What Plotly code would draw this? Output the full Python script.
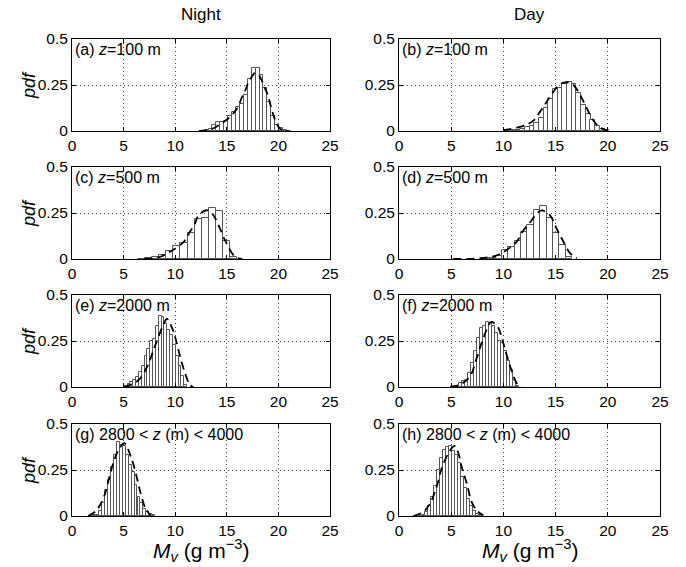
import plotly.graph_objects as go

# ---------------- data ----------------
panel_labels = ["(a) <i>z</i>=100 m", "(b) <i>z</i>=100 m",
                "(c) <i>z</i>=500 m", "(d) <i>z</i>=500 m",
                "(e) <i>z</i>=2000 m", "(f) <i>z</i>=2000 m",
                "(g) 2800 &lt; <i>z</i> (m) &lt; 4000", "(h) 2800 &lt; <i>z</i> (m) &lt; 4000"]

# histogram bin centres, widths and pdf heights
a_x = [12.66, 13.04, 13.42, 13.80, 14.18, 14.56, 14.94, 15.32, 15.70, 16.08, 16.46, 16.84,
       17.22, 17.60, 17.98, 18.36, 18.74, 19.12, 19.50, 19.88, 20.26, 20.64, 21.02]
a_y = [0.002, 0.005, 0.012, 0.03, 0.05, 0.05, 0.055, 0.08, 0.105, 0.13, 0.145, 0.195,
       0.28, 0.345, 0.34, 0.305, 0.235, 0.16, 0.08, 0.035, 0.015, 0.004, 0.002]
a_w = 0.38

b_x = [10.48, 10.93, 11.38, 11.83, 12.28, 12.73, 13.17, 13.62, 14.07, 14.52, 14.97,
       15.42, 15.87, 16.32, 16.77, 17.22, 17.67, 18.12, 18.56, 19.01, 19.46, 19.91]
b_y = [0.002, 0.003, 0.004, 0.01, 0.024, 0.027, 0.042, 0.072, 0.127, 0.172, 0.226,
       0.235, 0.253, 0.268, 0.253, 0.205, 0.141, 0.09, 0.06, 0.029, 0.011, 0.004]
b_w = 0.449

c_x = [6.71, 7.40, 8.09, 8.78, 9.47, 10.16, 10.85, 11.54, 12.23, 12.92, 13.61, 14.30, 14.99, 15.68]
c_y = [0.002, 0.005, 0.01, 0.02, 0.045, 0.07, 0.085, 0.14, 0.215, 0.225, 0.275, 0.26, 0.1, 0.01]
c_w = 0.69

d_x = [8.34, 8.95, 9.56, 10.17, 10.78, 11.39, 12.00, 12.61, 13.22, 13.83, 14.44, 15.05, 15.66, 16.27]
d_y = [0.003, 0.005, 0.016, 0.049, 0.067, 0.099, 0.147, 0.183, 0.268, 0.29, 0.223, 0.142, 0.076, 0.009]
d_w = 0.61

e_x = [5.24, 5.52, 5.79, 6.07, 6.34, 6.62, 6.89, 7.17, 7.44, 7.72, 7.99, 8.27,
       8.54, 8.82, 9.09, 9.37, 9.64, 9.92, 10.19, 10.47, 10.74, 11.02]
e_y = [0.007, 0.015, 0.025, 0.04, 0.055, 0.08, 0.113, 0.168, 0.204, 0.25, 0.26, 0.33,
       0.387, 0.38, 0.345, 0.31, 0.285, 0.23, 0.168, 0.113, 0.058, 0.013]
e_w = 0.275

f_x = [5.64, 5.93, 6.21, 6.50, 6.79, 7.08, 7.36, 7.65, 7.94, 8.22, 8.51, 8.80,
       9.08, 9.37, 9.66, 9.95, 10.23, 10.52, 10.81, 11.09, 11.38]
f_y = [0.007, 0.022, 0.031, 0.04, 0.077, 0.131, 0.195, 0.268, 0.318, 0.332, 0.354, 0.35,
       0.332, 0.296, 0.25, 0.24, 0.195, 0.14, 0.095, 0.04, 0.007]
f_w = 0.287

g_x = [1.90, 2.18, 2.47, 2.76, 3.04, 3.33, 3.62, 3.91, 4.19, 4.48, 4.77, 5.05, 5.34,
       5.63, 5.92, 6.20, 6.49, 6.78, 7.06, 7.35, 7.64, 7.92]
g_y = [0.002, 0.003, 0.007, 0.025, 0.068, 0.144, 0.195, 0.268, 0.332, 0.4, 0.387, 0.378,
       0.332, 0.277, 0.24, 0.168, 0.104, 0.068, 0.04, 0.022, 0.013, 0.005]
g_w = 0.287

h_x = [2.07, 2.36, 2.65, 2.94, 3.23, 3.51, 3.80, 4.09, 4.38, 4.67, 4.95, 5.24, 5.53,
       5.82, 6.11, 6.40, 6.68, 6.97, 7.26, 7.55, 7.84]
h_y = [0.002, 0.005, 0.022, 0.053, 0.104, 0.162, 0.25, 0.314, 0.36, 0.374, 0.378, 0.356,
       0.332, 0.287, 0.213, 0.15, 0.095, 0.053, 0.027, 0.013, 0.005]
h_w = 0.288

# fitted pdf curves (dashed)
a_fx = [12.3, 13.1, 13.6, 14.5, 15.16, 15.63, 16.1, 16.42, 16.74, 17.06, 17.37, 17.7,
        18.0, 18.3, 18.64, 18.96, 19.24, 19.5, 19.75, 20.05, 20.4, 21.0]
a_fy = [0.0, 0.003, 0.012, 0.042, 0.069, 0.096, 0.132, 0.178, 0.214, 0.26, 0.29, 0.315,
        0.31, 0.285, 0.24, 0.196, 0.14, 0.09, 0.05, 0.02, 0.004, 0.0]
b_fx = [10.0, 11.28, 12.24, 12.9, 13.5, 14.15, 14.8, 15.43, 16.07, 16.7, 17.35, 18.0,
        18.6, 19.27, 19.9]
b_fy = [0.004, 0.018, 0.035, 0.058, 0.104, 0.159, 0.214, 0.254, 0.265, 0.25, 0.195,
        0.122, 0.058, 0.018, 0.004]
c_fx = [7.0, 8.0, 8.7, 9.27, 9.75, 10.54, 11.0, 11.45, 11.9, 12.2, 12.75, 13.1, 13.48,
        13.86, 14.3, 14.8, 15.13, 15.6, 16.07, 16.5]
c_fy = [0.0, 0.005, 0.015, 0.033, 0.047, 0.078, 0.105, 0.15, 0.19, 0.232, 0.259, 0.265,
        0.254, 0.223, 0.17, 0.105, 0.069, 0.024, 0.005, 0.0]
d_fx = [5.2, 7.8, 9.36, 10.3, 11.28, 11.92, 12.56, 13.2, 13.67, 14.47, 15.1, 15.75, 16.39, 17.03]
d_fy = [0.0, 0.004, 0.02, 0.049, 0.094, 0.156, 0.2, 0.246, 0.264, 0.237, 0.165, 0.094, 0.031, 0.004]
e_fx = [5.06, 5.7, 6.5, 7.3, 7.9, 8.4, 9.04, 9.2, 9.7, 10.0, 10.5, 11.0, 11.4, 11.75]
e_fy = [0.0, 0.013, 0.04, 0.113, 0.2, 0.277, 0.36, 0.372, 0.32, 0.27, 0.16, 0.068, 0.013, 0.0]
f_fx = [4.9, 5.86, 6.8, 7.45, 8.09, 8.73, 8.9, 9.5, 9.84, 10.3, 10.8, 11.27, 11.75]
f_fy = [0.0, 0.013, 0.058, 0.159, 0.268, 0.35, 0.354, 0.323, 0.268, 0.177, 0.086, 0.022, 0.0]
g_fx = [1.56, 2.36, 3.15, 3.63, 4.1, 4.6, 5.06, 5.7, 6.18, 6.66, 7.13, 7.6]
g_fy = [0.0, 0.03, 0.113, 0.213, 0.305, 0.368, 0.396, 0.323, 0.232, 0.122, 0.04, 0.004]
h_fx = [1.37, 2.33, 2.97, 3.61, 4.09, 4.73, 5.2, 5.37, 5.69, 6.0, 6.49, 6.96, 7.44, 8.08]
h_fy = [0.0, 0.022, 0.068, 0.159, 0.259, 0.341, 0.378, 0.38, 0.341, 0.268, 0.177, 0.077, 0.031, 0.004]

x_ticks = [0, 5, 10, 15, 20, 25]
y_ticks = [0, 0.25, 0.5]
y_tick_text = ["0", "0.25", "0.5"]
col_titles = ["Night", "Day"]

hist = [(a_x, a_y, a_w), (b_x, b_y, b_w), (c_x, c_y, c_w), (d_x, d_y, d_w),
        (e_x, e_y, e_w), (f_x, f_y, f_w), (g_x, g_y, g_w), (h_x, h_y, h_w)]
fits = [(a_fx, a_fy), (b_fx, b_fy), (c_fx, c_fy), (d_fx, d_fy),
        (e_fx, e_fy), (f_fx, f_fy), (g_fx, g_fy), (h_fx, h_fy)]

# ---------------- layout geometry ----------------
W, H = 686, 567
col_px = [(72, 330), (399, 660)]
row_px = [(39, 131), (167, 259), (295, 387), (424, 516)]
FONT = "Liberation Sans, Arial, Helvetica, sans-serif"
GRID_DASH = "1px,3px"
TICK_SIZE = 15.5

fig = go.Figure()
layout = dict(width=W, height=H,
              margin=dict(l=0, r=0, t=0, b=0, pad=0, autoexpand=False),
              paper_bgcolor="white", plot_bgcolor="white", showlegend=False,
              font=dict(family=FONT, size=15, color="black"), bargap=0)
annotations = []

for i in range(8):
    r, c = divmod(i, 2)
    n = i + 1
    xa = "xaxis" if n == 1 else f"xaxis{n}"
    ya = "yaxis" if n == 1 else f"yaxis{n}"
    xr = "x" if n == 1 else f"x{n}"
    yr = "y" if n == 1 else f"y{n}"
    x0, x1 = col_px[c]
    t0, t1 = row_px[r]
    layout[xa] = dict(domain=[x0 / W, x1 / W], range=[0, 25], anchor=yr, automargin=False,
                      tickvals=x_ticks, ticks="inside", ticklen=4, tickcolor="black",
                      showline=True, linecolor="black", linewidth=1, mirror="ticks",
                      showgrid=True, gridcolor="#444", griddash=GRID_DASH, gridwidth=1,
                      zeroline=False, tickfont=dict(size=TICK_SIZE), fixedrange=True)
    layout[ya] = dict(domain=[1 - t1 / H, 1 - t0 / H], range=[0, 0.5], anchor=xr,
                      automargin=False,
                      tickvals=y_ticks, ticktext=y_tick_text, ticks="inside", ticklen=4,
                      tickcolor="black", showline=True, linecolor="black", linewidth=1,
                      mirror="ticks", showgrid=True, gridcolor="#444", griddash=GRID_DASH,
                      gridwidth=1, zeroline=False, tickfont=dict(size=TICK_SIZE),
                      fixedrange=True)
    hx, hy, hw = hist[i]
    fig.add_trace(go.Bar(x=hx, y=hy, width=hw, xaxis=xr, yaxis=yr,
                         marker=dict(color="white", line=dict(color="#555", width=1))))
    fx, fy = fits[i]
    fig.add_trace(go.Scatter(x=fx, y=fy, mode="lines", xaxis=xr, yaxis=yr,
                             line=dict(color="black", width=1.8, dash="8px,5px",
                                       shape="spline")))
    annotations.append(dict(text=panel_labels[i], xref=f"{xr} domain", yref=f"{yr} domain",
                            x=0.004, y=0.995, xanchor="left", yanchor="top", showarrow=False,
                            font=dict(size=16)))
    if c == 0:
        annotations.append(dict(text="<i>pdf</i>", xref="paper", yref="paper",
                                x=29 / W, y=1 - (t0 + t1) / 2 / H, textangle=-90,
                                xanchor="center", yanchor="middle",
                                showarrow=False, font=dict(size=18)))

for c in range(2):
    x0, x1 = col_px[c]
    annotations.append(dict(text=col_titles[c], xref="paper", yref="paper",
                            x=(x0 + x1) / 2 / W, y=1 - 14 / H, showarrow=False,
                            xanchor="center", yanchor="middle", font=dict(size=17)))
    annotations.append(dict(text="<i>M<sub>v</sub></i> (g m<sup>\u22123</sup>)",
                            xref="paper", yref="paper", x=(x0 + x1) / 2 / W,
                            y=1 - 550 / H, showarrow=False, xanchor="center",
                            yanchor="middle", font=dict(size=21)))

layout["annotations"] = annotations
fig.update_layout(**layout)
fig.write_html("out.html", config={"displayModeBar": False},
               post_script="document.body.style.margin='0';document.body.style.padding='0';")
